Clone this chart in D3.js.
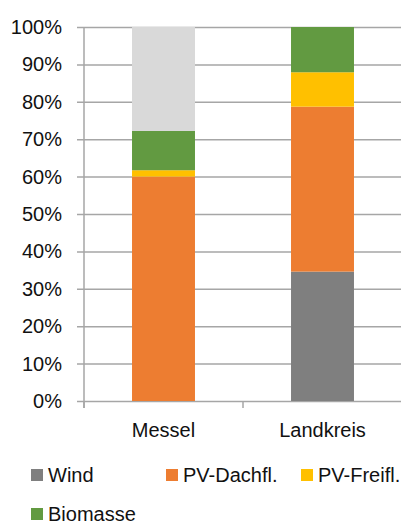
<!DOCTYPE html>
<html><head><meta charset="utf-8">
<script src="https://cdn.jsdelivr.net/npm/d3@7"></script>
<style>
html,body{margin:0;padding:0;background:#fff;}
svg{display:block;font-family:"Liberation Sans",Arial,sans-serif;}
</style></head>
<body>
<svg id="chart" width="401" height="525"></svg>
<script>
const categories = ["Messel", "Landkreis"];
const seriesNames = ["Wind", "PV-Dachfl.", "PV-Freifl.", "Biomasse", "Rest"];
const wind      = [0.000, 0.346];
const pvDach    = [0.600, 0.441];
const pvFrei    = [0.017, 0.092];
const biomasse  = [0.105, 0.121];
const rest      = [0.278, 0.000];
const seriesColors = ["#7F7F7F", "#ED7D31", "#FFC000", "#629A41", "#D9D9D9"];
const legendSeries = ["Wind", "PV-Dachfl.", "PV-Freifl.", "Biomasse"];
const yTicks = [0, 0.1, 0.2, 0.3, 0.4, 0.5, 0.6, 0.7, 0.8, 0.9, 1.0];

(function () {
const values = [wind, pvDach, pvFrei, biomasse, rest];
const table = categories.map((c, i) => {
  const row = {cat: c};
  seriesNames.forEach((s, j) => row[s] = values[j][i]);
  return row;
});

const svg = d3.select("#chart");
const pLeft = 84, pRight = 402, pTop = 27, pBottom = 401;

const y = d3.scaleLinear().domain([0, 1]).range([pBottom, pTop]);
const x = d3.scaleBand().domain(categories).range([pLeft, pRight])
  .paddingInner(0.604).paddingOuter(0.302);
const color = d3.scaleOrdinal().domain(seriesNames).range(seriesColors);

// gridlines + y labels
const yAxis = d3.axisLeft(y).tickValues(yTicks).tickFormat(d3.format(".0%"))
  .tickSize(-(401 - 77)).tickPadding(15);
const gy = svg.append("g").attr("transform", "translate(77,0)").call(yAxis);
gy.select(".domain").remove();
gy.selectAll(".tick line").attr("stroke", "#A6A6A6").attr("stroke-width", 1.5);
gy.selectAll(".tick text").attr("font-size", 20).attr("fill", "#111")
  .attr("font-family", "Liberation Sans, Arial, sans-serif");

// stacked bars
const stack = d3.stack().keys(seriesNames)(table);
svg.append("g").selectAll("g").data(stack).join("g")
  .attr("fill", d => color(d.key))
  .selectAll("rect").data(d => d).join("rect")
  .attr("x", d => x(d.data.cat))
  .attr("width", x.bandwidth())
  .attr("y", d => y(d[1]))
  .attr("height", d => y(d[0]) - y(d[1]));

// vertical axis line
svg.append("line").attr("x1", pLeft).attr("x2", pLeft).attr("y1", pTop).attr("y2", pBottom + 7)
  .attr("stroke", "#A6A6A6").attr("stroke-width", 1.5);
// x axis ticks at band boundaries
const bounds = [pLeft, pLeft + x.step(), pLeft + 2 * x.step()];
svg.append("g").selectAll("line").data(bounds).join("line")
  .attr("x1", d => d).attr("x2", d => d).attr("y1", pBottom).attr("y2", pBottom + 7)
  .attr("stroke", "#A6A6A6").attr("stroke-width", 1.5);

// category labels
svg.append("g").selectAll("text").data(categories).join("text")
  .attr("x", d => x(d) + x.bandwidth() / 2)
  .attr("y", 437)
  .attr("text-anchor", "middle")
  .attr("font-size", 20).attr("fill", "#111")
  .text(d => d);

// legend
const legendPos = [[31, 482], [166, 482], [301, 482], [31, 521]];
const lg = svg.append("g").selectAll("g").data(legendSeries).join("g")
  .attr("transform", (d, i) => `translate(${legendPos[i][0]},${legendPos[i][1]})`);
lg.append("rect").attr("x", 0).attr("y", -13).attr("width", 12).attr("height", 12)
  .attr("fill", d => color(d));
lg.append("text").attr("x", 17).attr("y", 0).attr("font-size", 20).attr("fill", "#111")
  .text(d => d);
})();
</script>
</body></html>
